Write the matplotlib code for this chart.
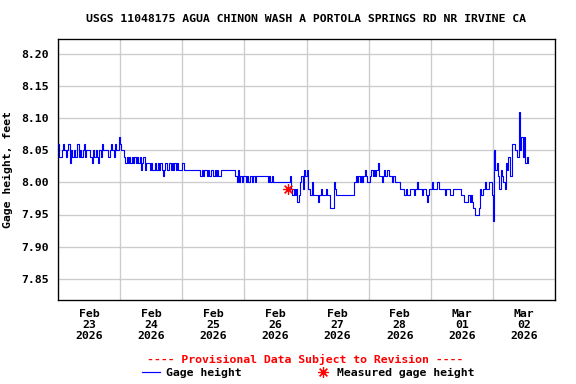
import matplotlib
matplotlib.use("Agg")
import matplotlib.pyplot as plt
import matplotlib.dates as mdates
import pandas as pd
from matplotlib.lines import Line2D

title = "USGS 11048175 AGUA CHINON WASH A PORTOLA SPRINGS RD NR IRVINE CA"
start_time = "2026-02-23 00:00"

feb23 = [8.06,8.04,8.04,8.05,8.06,8.05,8.04,8.05,8.06,8.03,8.05,8.04,8.05,8.04,8.04,8.06,
         8.04,8.05,8.04,8.05,8.06,8.04,8.05,8.05,8.05,8.04,8.03,8.05,8.04,8.05,8.04,8.03,
         8.05,8.04,8.06,8.05,8.05,8.05,8.05,8.04,8.05,8.06,8.05,8.04,8.06,8.05,8.05,8.07]
feb24 = [8.06,8.05,8.05,8.04,8.03,8.04,8.03,8.04,8.03,8.04,8.03,8.04,8.03,8.04,8.03,8.04,
         8.02,8.03,8.04,8.02,8.03,8.03,8.03,8.02,8.03,8.02,8.02,8.03,8.02,8.03,8.02,8.03,
         8.02,8.01,8.02,8.03,8.02,8.02,8.03,8.02,8.03,8.02,8.03,8.02,8.03,8.02,8.02,8.02]
feb25 = [8.03,8.02,8.02,8.02,8.02,8.02,8.02,8.02,8.02,8.02,8.02,8.02,8.02,8.02,8.01,8.02,
         8.01,8.02,8.02,8.01,8.02,8.01,8.02,8.02,8.01,8.02,8.01,8.02,8.01,8.01,8.02,8.02,
         8.02,8.02,8.02,8.02,8.02,8.02,8.02,8.02,8.02,8.01,8.00,8.02,8.00,8.01,8.00,8.01]
feb26 = [8.01,8.00,8.01,8.00,8.01,8.01,8.00,8.01,8.00,8.01,8.01,8.01,8.01,8.01,8.01,8.01,
         8.01,8.01,8.00,8.01,8.00,8.01,8.00,8.00,8.00,8.00,8.00,8.00,8.00,8.00,8.00,8.00,
         8.00,8.00,8.00,8.01,7.99,7.98,7.99,7.98,7.99,7.97,7.98,8.00,8.01,7.99,8.02,8.01]
feb27 = [8.02,7.99,7.99,7.98,8.00,7.98,7.98,7.98,7.98,7.97,7.98,7.99,7.98,7.98,7.98,7.99,
         7.98,7.98,7.96,7.96,7.96,8.00,7.99,7.98,7.98,7.98,7.98,7.98,7.98,7.98,7.98,7.98,
         7.98,7.98,7.98,7.98,7.98,8.00,8.01,8.00,8.01,8.00,8.01,8.00,8.01,8.02,8.01,8.00]
feb28 = [8.00,8.01,8.02,8.01,8.02,8.01,8.02,8.03,8.01,8.01,8.00,8.01,8.02,8.01,8.02,8.02,
         8.01,8.01,8.00,8.01,8.00,8.00,8.00,8.00,7.99,7.99,7.99,7.98,7.98,7.99,7.98,7.98,
         7.99,7.99,7.99,7.98,7.99,8.00,7.99,7.99,7.99,7.98,7.99,7.99,7.98,7.97,7.98,7.99]
mar01 = [7.99,8.00,7.99,7.99,7.99,8.00,7.99,7.99,7.99,7.99,7.99,7.98,7.99,7.99,7.99,7.98,
         7.98,7.99,7.99,7.99,7.99,7.99,7.99,7.98,7.98,7.98,7.97,7.97,7.97,7.98,7.97,7.98,
         7.97,7.96,7.95,7.95,7.95,7.96,7.99,7.98,7.99,7.99,8.00,7.99,7.99,8.00,8.00,7.98]
mar02 = [7.94,8.05,8.02,8.03,8.01,7.99,8.02,8.01,8.00,7.99,8.03,8.02,8.04,8.01,8.01,8.06,
         8.06,8.05,8.05,8.04,8.11,8.05,8.07,8.04,8.07,8.03,8.04,8.03]

gage = feb23 + feb24 + feb25 + feb26 + feb27 + feb28 + mar01 + mar02
times = pd.date_range(start_time, periods=len(gage), freq="30min")

measured_time = [pd.Timestamp("2026-02-26 16:54")]
measured_value = [7.99]

y_ticks = [7.85, 7.90, 7.95, 8.00, 8.05, 8.10, 8.15, 8.20]
x_day_lines = pd.date_range("2026-02-23", "2026-03-03", freq="D")
x_label_pos = pd.date_range("2026-02-23 12:00", periods=8, freq="D")
x_labels = ["Feb\n23\n2026", "Feb\n24\n2026", "Feb\n25\n2026", "Feb\n26\n2026",
            "Feb\n27\n2026", "Feb\n28\n2026", "Mar\n01\n2026", "Mar\n02\n2026"]

plt.rcParams['font.family'] = ['DejaVu Sans Mono']
plt.rcParams['font.weight'] = 'bold'
fs = 8.6

fig = plt.figure(figsize=(6, 4), dpi=96)
ax = fig.add_axes([58/576, 1-300/384, (555-58)/576, (300-39)/384])

ax.plot(times, gage, color="#0000ff", lw=0.85, drawstyle="steps-post", zorder=3)
ax.plot(measured_time, measured_value, linestyle="none", marker=(8, 2, 0),
        markersize=8, markeredgewidth=0.9, color="#ff0000", zorder=4)

ax.set_xlim(x_day_lines[0], x_day_lines[-1])
ax.set_ylim(7.817, 8.223)
ax.set_yticks(y_ticks)
ax.set_yticklabels([f"{v:.2f}" for v in y_ticks], fontsize=fs, fontweight="bold")
ax.set_xticks(x_day_lines)
ax.set_xticklabels([])
ax.set_xticks(x_label_pos, minor=True)
ax.set_xticklabels(x_labels, minor=True, fontsize=fs, fontweight="bold", linespacing=1.1)
ax.tick_params(axis="both", which="both", length=0)
ax.tick_params(axis="x", which="minor", pad=7)
ax.tick_params(axis="y", pad=7)
ax.grid(True, which="major", color="#cccccc", lw=1.0)
ax.set_axisbelow(True)
for s in ax.spines.values():
    s.set_linewidth(1.0)
    s.set_color("black")

ax.set_ylabel("Gage height, feet", fontsize=fs, fontweight="bold", labelpad=6)

fig.text(306/576, 1-19/384, title, ha="center", va="center", fontsize=fs, fontweight="bold")
fig.text(305/576, 1-359/384, "---- Provisional Data Subject to Revision ----",
         ha="center", va="center", fontsize=fs, fontweight="bold", color="#ff0000")

fig.add_artist(Line2D([142/576, 160/576], [1-372/384, 1-372/384], color="#0000ff", lw=0.9))
fig.text(166/576, 1-373/384, "Gage height", ha="left", va="center", fontsize=fs, fontweight="bold")
fig.add_artist(Line2D([323/576], [1-372/384], linestyle="none", marker=(8, 2, 0),
                      markersize=8, markeredgewidth=0.9, color="#ff0000"))
fig.text(337/576, 1-373/384, "Measured gage height", ha="left", va="center", fontsize=fs, fontweight="bold")

fig.savefig("out.png", dpi=96)
